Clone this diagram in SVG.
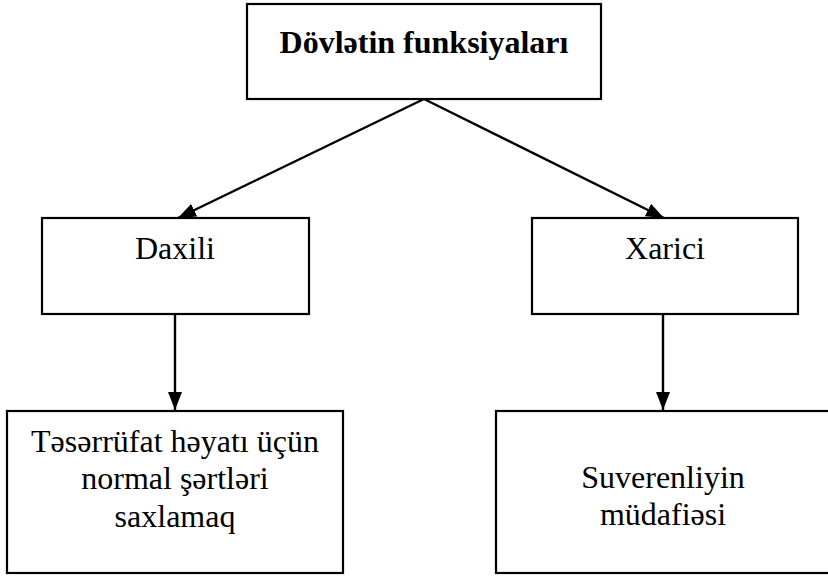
<svg xmlns="http://www.w3.org/2000/svg" width="828" height="578" viewBox="0 0 828 578">
<style>
.box{fill:#fff;stroke:#000;stroke-width:2.2}
.t{font-family:'Liberation Serif','DejaVu Serif',serif;font-size:32px;fill:#000;text-anchor:middle}
.b{font-weight:bold}
.c{stroke:#000;stroke-width:2.4;fill:none}
</style>
<defs>
<marker id="ah" viewBox="0 0 18 14" refX="18" refY="7" markerWidth="18" markerHeight="14" markerUnits="userSpaceOnUse" orient="auto">
<path d="M0,0 L18,7 L0,14 Z" fill="#000"/>
</marker>
</defs>
<rect width="828" height="578" fill="#fff"/>
<g id="connectors">
<line class="c" x1="424" y1="99" x2="178" y2="218" marker-end="url(#ah)"/>
<line class="c" x1="424" y1="99" x2="664" y2="218" marker-end="url(#ah)"/>
<line class="c" x1="175" y1="314" x2="175" y2="410" marker-end="url(#ah)"/>
<line class="c" x1="663" y1="314" x2="663" y2="410" marker-end="url(#ah)"/>
</g>
<g id="root">
<rect class="box" x="247" y="4" width="354" height="95"/>
<text class="t b" x="424" y="53" font-family="Liberation Serif, serif">Dövlətin funksiyaları</text>
</g>
<g id="daxili">
<rect class="box" x="42" y="218" width="267" height="96"/>
<text class="t" x="175" y="259" font-family="Liberation Serif, serif">Daxili</text>
</g>
<g id="xarici">
<rect class="box" x="532" y="218" width="266" height="96"/>
<text class="t" x="665" y="259" font-family="Liberation Serif, serif">Xarici</text>
</g>
<g id="daxili-func">
<rect class="box" x="7" y="411" width="336" height="162"/>
<text class="t" x="175" y="452" font-family="Liberation Serif, serif">Təsərrüfat həyatı üçün</text>
<text class="t" x="175" y="489" font-family="Liberation Serif, serif">normal şərtləri</text>
<text class="t" x="175" y="527" font-family="Liberation Serif, serif">saxlamaq</text>
</g>
<g id="xarici-func">
<rect class="box" x="496" y="411" width="336" height="162"/>
<text class="t" x="663" y="488" font-family="Liberation Serif, serif">Suverenliyin</text>
<text class="t" x="663" y="525" font-family="Liberation Serif, serif">müdafiəsi</text>
</g>
</svg>
